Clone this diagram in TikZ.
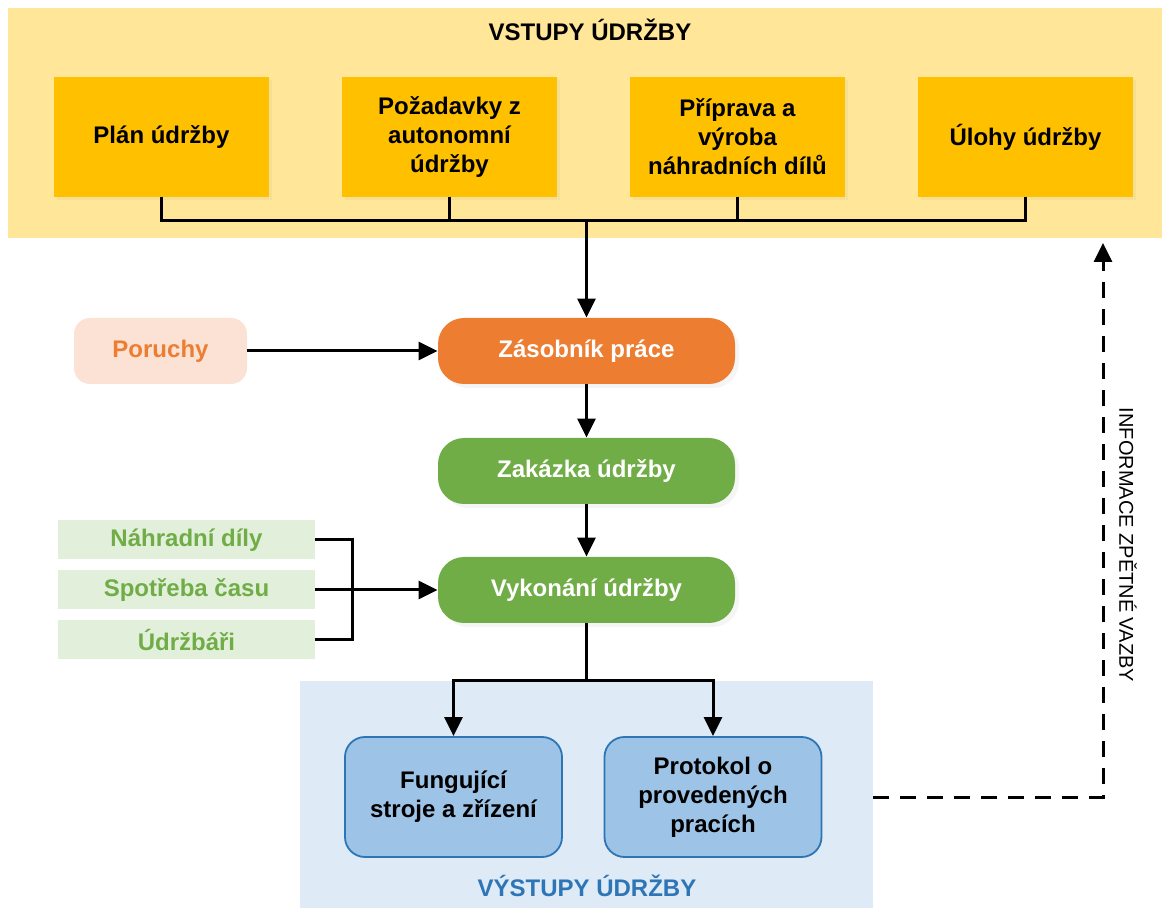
\documentclass[tikz,border=0pt]{standalone}
\usepackage{fontspec}
\setmainfont{Liberation Sans}
\usepackage{xcolor}
\usepackage{tikz}
\usetikzlibrary{arrows.meta, positioning, shadows}

\definecolor{bandyellow}{HTML}{FFE699}
\definecolor{boxyellow}{HTML}{FFC000}
\definecolor{workorange}{HTML}{ED7D31}
\definecolor{faultpink}{HTML}{FBE2D5}
\definecolor{workgreen}{HTML}{70AD47}
\definecolor{resgreen}{HTML}{E2EFDA}
\definecolor{bandblue}{HTML}{DEEBF7}
\definecolor{outblue}{HTML}{9DC3E6}
\definecolor{edgeblue}{HTML}{2E75B6}

\begin{document}
\begin{tikzpicture}[
  x=0.5pt, y=-0.5pt,
  txt/.style={font=\fontsize{12}{14.5}\selectfont\bfseries, align=center},
  band/.style={inner sep=0pt},
  inbox/.style={txt, fill=boxyellow, minimum width=107.5pt, minimum height=60pt,
    drop shadow={shadow xshift=1.5pt, shadow yshift=-1.5pt, opacity=0.08}},
  stepbox/.style={txt, text=white, minimum width=148.5pt, minimum height=33pt, rounded corners=13pt,
    drop shadow={shadow xshift=2pt, shadow yshift=-2pt, opacity=0.08}},
  resbox/.style={txt, text=workgreen, fill=resgreen, minimum width=128.5pt, minimum height=19.5pt},
  outbox/.style={txt, fill=outblue, draw=edgeblue, line width=0.9pt, minimum width=108.5pt,
    minimum height=60pt, rounded corners=10pt},
  line/.style={line width=1.5pt},
  arr/.style={line, -{Triangle[length=9.5pt, width=9pt]}},
  fback/.style={arr, dash pattern=on 8pt off 5.5pt}
]
  \useasboundingbox (0,0) rectangle (1164,909);

  % Inputs band
  \node[band, fill=bandyellow, minimum width=577pt, minimum height=115pt] (inband) at (585,123) {};
  \node[txt] (intitle) at (590,30) {VSTUPY ÚDRŽBY};
  \foreach \x/\n/\t in {161.5/plan/{Plán údržby}, 449.5/poz/{Požadavky z\\autonomní\\údržby},
                        737.5/prip/{Příprava a\\výroba\\náhradních dílů}, 1025.5/ulohy/{Úlohy údržby}} {
    \node[inbox] (\n) at (\x,137) {\t};
  }
  \coordinate (barL) at (161.5,221);
  \coordinate (barR) at (1025.5,221);
  \coordinate (barM) at (586.5,221);
  \draw[line] (plan.south) -- (plan.south |- barL) -- (barR) -- (ulohy.south);
  \draw[line] (poz.south) -- (poz.south |- barM);
  \draw[line] (prip.south) -- (prip.south |- barM);

  % Work flow
  \node[stepbox, fill=workorange] (zas) at (586.5,351) {Zásobník práce};
  \node[stepbox, fill=workgreen] (zak) at (586.5,471) {Zakázka údržby};
  \node[stepbox, fill=workgreen] (vyk) at (586.5,590) {Vykonání údržby};
  \node[txt, text=workorange, fill=faultpink, minimum width=86.5pt, minimum height=33pt,
    rounded corners=8pt] (por) at (160.5,351) {Poruchy};

  \draw[arr] (barM) -- (zas.north);
  \draw[arr] (por.east) -- (zas.west);
  \draw[arr] (zas.south) -- (zak.north);
  \draw[arr] (zak.south) -- (vyk.north);

  % Resources
  \node[resbox] (nd) at (186.5,540) {Náhradní díly};
  \node[resbox] (spot) at (186.5,590) {Spotřeba času};
  \node[resbox] (udr) at (186.5,640) {Údržbáři};
  \coordinate (join) at (352,590);
  \draw[line] (nd.east) -- (nd.east -| join) -- (udr.east -| join) -- (udr.east);
  \draw[arr] (spot.east) -- (vyk.west);

  % Outputs band
  \node[band, fill=bandblue, minimum width=286.5pt, minimum height=113.5pt] (outband) at (586.5,794.5) {};
  \node[txt, text=edgeblue] (outtitle) at (587,886) {VÝSTUPY ÚDRŽBY};
  \node[outbox] (fung) at (453.5,797) {Fungující\\stroje a zřízení};
  \node[outbox] (prot) at (713,797) {Protokol o\\provedených\\pracích};
  \coordinate (split) at (586.5,681);
  \draw[line] (vyk.south) -- (split);
  \draw[arr] (split) -| (fung.north);
  \draw[arr] (split) -| (prot.north);

  % Feedback
  \coordinate (fbtop) at (1103,243);
  \draw[fback] (outband.east |- prot.east) -| (fbtop);
  \node[rotate=-90, font=\fontsize{10}{12}\selectfont] (zpet) at (1128,545) {INFORMACE ZPĚTNÉ VAZBY};

\end{tikzpicture}
\end{document}
